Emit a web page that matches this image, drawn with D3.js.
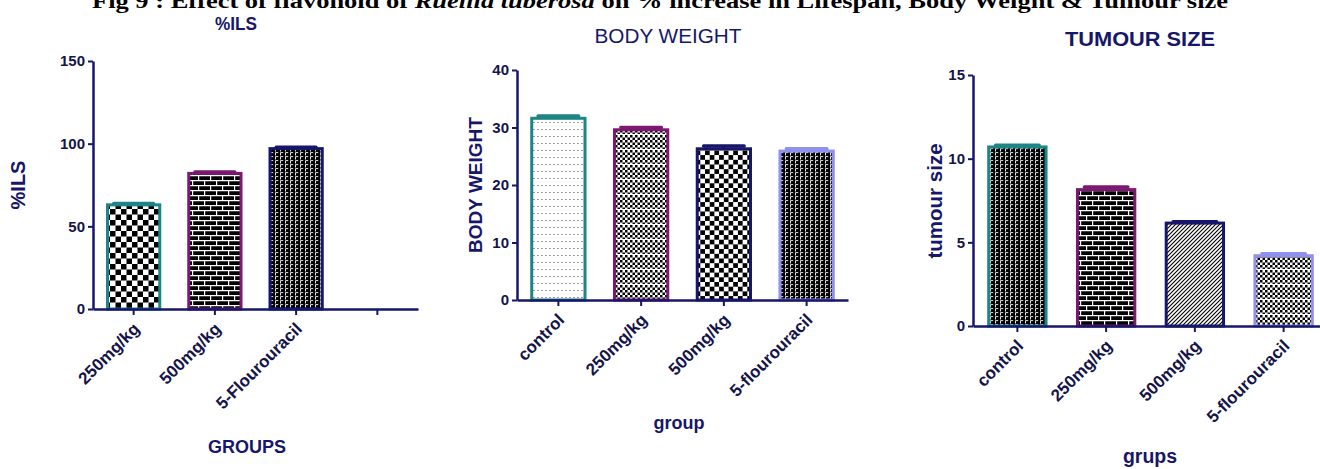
<!DOCTYPE html>
<html>
<head>
<meta charset="utf-8">
<script src="https://cdn.jsdelivr.net/npm/d3@7"></script>
<style>
  body { margin: 0; background: #fff; overflow: hidden; }
  svg { display: block; }
</style>
</head>
<body>
<svg id="chart" width="1320" height="469"></svg>
<script>
// values
const ilsGroups = ["250mg/kg", "500mg/kg", "5-Flourouracil", ""];
const ilsValues = [63, 82, 97];
const ilsErrors = [0.8, 0.8, 0.8];
const ilsTicks = [0, 50, 100, 150];

const bwGroups = ["control", "250mg/kg", "500mg/kg", "5-flourouracil"];
const bwValues = [31.6, 29.6, 26.3, 25.9];
const bwErrors = [0.4, 0.4, 0.5, 0.4];
const bwTicks = [0, 10, 20, 30, 40];

const tsGroups = ["control", "250mg/kg", "500mg/kg", "5-flourouracil"];
const tsValues = [10.7, 8.15, 6.15, 4.2];
const tsErrors = [0.1, 0.15, 0.08, 0.12];
const tsTicks = [0, 5, 10, 15];

const teal = "#1d8585", purple = "#7c1870", navy = "#16166a", peri = "#9090ee";
const ink = "#14144a";
const sans = "'Liberation Sans', Arial, sans-serif";

const svg = d3.select("#chart");
const defs = svg.append("defs");

function pattern(id, w, h, draw) {
  const p = defs.append("pattern")
    .attr("id", id).attr("patternUnits", "userSpaceOnUse")
    .attr("width", w).attr("height", h);
  draw(p);
}
function checker(id, s) {
  pattern(id, s * 2, s * 2, p => {
    p.append("rect").attr("width", s * 2).attr("height", s * 2).attr("fill", "#fff");
    p.append("rect").attr("width", s).attr("height", s).attr("fill", "#000");
    p.append("rect").attr("x", s).attr("y", s).attr("width", s).attr("height", s).attr("fill", "#000");
  });
}
checker("checkerL", 5.5);
checker("checker", 4.7);
pattern("brick", 12, 10, p => {
  p.append("rect").attr("width", 12).attr("height", 10).attr("fill", "#000");
  p.append("path").attr("d", "M0,0.6H12M0,5.6H12M0.6,0V5M6.6,5V10")
    .attr("stroke", "#fff").attr("stroke-width", 1.2);
});
pattern("zig", 5, 4, p => {
  p.append("rect").attr("width", 5).attr("height", 4).attr("fill", "#000");
  p.append("path").attr("d", "M0.5,3.5V0.6H3.2")
    .attr("stroke", "#fff").attr("stroke-width", 0.9).attr("fill", "none");
});
pattern("dots", 4, 7, p => {
  p.append("rect").attr("width", 4).attr("height", 7).attr("fill", "#fff");
  p.append("rect").attr("x", 1.5).attr("y", 3).attr("width", 0.9).attr("height", 0.9).attr("fill", "#111");
});
pattern("fineChecker", 5, 15, p => {
  p.append("rect").attr("width", 5).attr("height", 15).attr("fill", "#fff");
  for (let r = 0; r < 6; r++) {
    p.append("rect").attr("x", (r % 2) * 2.5).attr("y", r * 2.5)
      .attr("width", 2.5).attr("height", 2.5).attr("fill", "#000");
  }
  p.append("rect").attr("y", 14).attr("width", 5).attr("height", 1).attr("fill", "#fff");
});
pattern("hatch", 4, 4, p => {
  p.append("rect").attr("width", 4).attr("height", 4).attr("fill", "#fff");
  p.append("path").attr("d", "M-1,1L1,-1M0,4L4,0M3,5L5,3")
    .attr("stroke", "#000").attr("stroke-width", 1.1);
});

// main caption, cut off at the top of the picture
const cap = svg.append("text")
  .attr("x", 660).attr("y", 8).attr("text-anchor", "middle")
  .attr("font-family", "'Liberation Serif', 'Times New Roman', serif")
  .attr("font-weight", "bold").attr("font-size", 21)
  .attr("textLength", 1136).attr("lengthAdjust", "spacingAndGlyphs");
cap.append("tspan").text("Fig 9 : Effect of flavonoid of ");
cap.append("tspan").attr("font-style", "italic").text("Ruellia tuberosa");
cap.append("tspan").text(" on % increase in Lifespan, Body Weight & Tumour size");

const panels = [
  { groups: ilsGroups, values: ilsValues, errors: ilsErrors, ticks: ilsTicks,
    x0: 93, x1: 418, yBase: 309, yTop: 61,
    fills: ["checkerL", "brick", "zig"], strokes: [teal, purple, navy],
    title: "%ILS", tx: 236, ty: 30, tSize: 18, tWeight: "bold", tLen: 42,
    yLabel: "%ILS", lx: 25, ly: 185, lSize: 20,
    xLabel: "GROUPS", xx: 247, xy: 453, xSize: 18 },
  { groups: bwGroups, values: bwValues, errors: bwErrors, ticks: bwTicks,
    x0: 517, x1: 848, yBase: 300, yTop: 70,
    fills: ["dots", "fineChecker", "checker", "zig"], strokes: [teal, purple, navy, peri],
    title: "BODY WEIGHT", tx: 668, ty: 43, tSize: 20, tWeight: "normal", tLen: 147,
    yLabel: "BODY WEIGHT", lx: 482, ly: 185, lSize: 19,
    xLabel: "group", xx: 679, xy: 429, xSize: 18 },
  { groups: tsGroups, values: tsValues, errors: tsErrors, ticks: tsTicks,
    x0: 973, x1: 1328, yBase: 326, yTop: 75,
    fills: ["zig", "brick", "hatch", "fineChecker"], strokes: [teal, purple, navy, peri],
    title: "TUMOUR SIZE", tx: 1140, ty: 46, tSize: 21, tWeight: "bold", tLen: 150,
    yLabel: "tumour size", lx: 942, ly: 201, lSize: 20.5,
    xLabel: "grups", xx: 1150, xy: 463, xSize: 19.5 }
];

panels.forEach(p => {
  const g = svg.append("g");
  const x = d3.scaleBand().domain(p.groups).range([p.x0, p.x1])
    .paddingInner(0.32).paddingOuter(0.16);
  const y = d3.scaleLinear().domain([0, p.ticks[p.ticks.length - 1]])
    .range([p.yBase, p.yTop]);
  const bw = x.bandwidth();
  const rows = p.values.map((v, i) => ({ g: p.groups[i], v, e: p.errors[i], i }));

  // error bars (mean + SEM)
  g.selectAll(".err").data(rows).join("path")
    .attr("d", d => {
      const cx = x(d.g) + bw / 2, half = bw * 0.36;
      return `M${cx},${y(d.v)}V${y(d.v + d.e)}M${cx - half},${y(d.v + d.e)}H${cx + half}`;
    })
    .attr("stroke", d => p.strokes[d.i]).attr("stroke-width", 3.5)
    .attr("stroke-linecap", "round").attr("fill", "none");

  g.selectAll(".bar").data(rows).join("rect")
    .attr("x", d => x(d.g) + 1.5)
    .attr("y", d => y(d.v))
    .attr("width", bw - 3)
    .attr("height", d => y(0) - y(d.v))
    .attr("fill", d => `url(#${p.fills[d.i]})`)
    .attr("stroke", d => p.strokes[d.i]).attr("stroke-width", 3);

  const ya = g.append("g").attr("transform", `translate(${p.x0},0)`)
    .call(d3.axisLeft(y).tickValues(p.ticks).tickSize(5).tickSizeOuter(0).tickPadding(3));
  const xa = g.append("g").attr("transform", `translate(0,${p.yBase})`)
    .call(d3.axisBottom(x).tickSize(6).tickSizeOuter(0).tickFormat(""));

  [ya, xa].forEach(a => {
    a.select(".domain").attr("stroke", navy).attr("stroke-width", 2.5);
    a.selectAll(".tick line").attr("stroke", navy).attr("stroke-width", 2);
  });
  ya.selectAll(".tick text")
    .attr("font-family", sans).attr("font-weight", "bold")
    .attr("font-size", 15).attr("fill", ink);

  g.selectAll(".xl").data(p.groups).join("text")
    .attr("transform", d => `translate(${x(d) + bw / 2 + 7},${p.yBase + 21}) rotate(-45)`)
    .attr("text-anchor", "end")
    .attr("font-family", sans).attr("font-weight", "bold").attr("font-size", 17)
    .attr("fill", ink).text(d => d);

  g.append("text").attr("x", p.tx).attr("y", p.ty).attr("text-anchor", "middle")
    .attr("font-family", sans).attr("font-weight", p.tWeight).attr("font-size", p.tSize)
    .attr("textLength", p.tLen).attr("lengthAdjust", "spacingAndGlyphs")
    .attr("fill", navy).text(p.title);

  g.append("text").attr("transform", `translate(${p.lx},${p.ly}) rotate(-90)`)
    .attr("text-anchor", "middle")
    .attr("font-family", sans).attr("font-weight", "bold").attr("font-size", p.lSize)
    .attr("fill", navy).text(p.yLabel);

  g.append("text").attr("x", p.xx).attr("y", p.xy).attr("text-anchor", "middle")
    .attr("font-family", sans).attr("font-weight", "bold").attr("font-size", p.xSize)
    .attr("fill", navy).text(p.xLabel);
});
</script>
</body>
</html>
